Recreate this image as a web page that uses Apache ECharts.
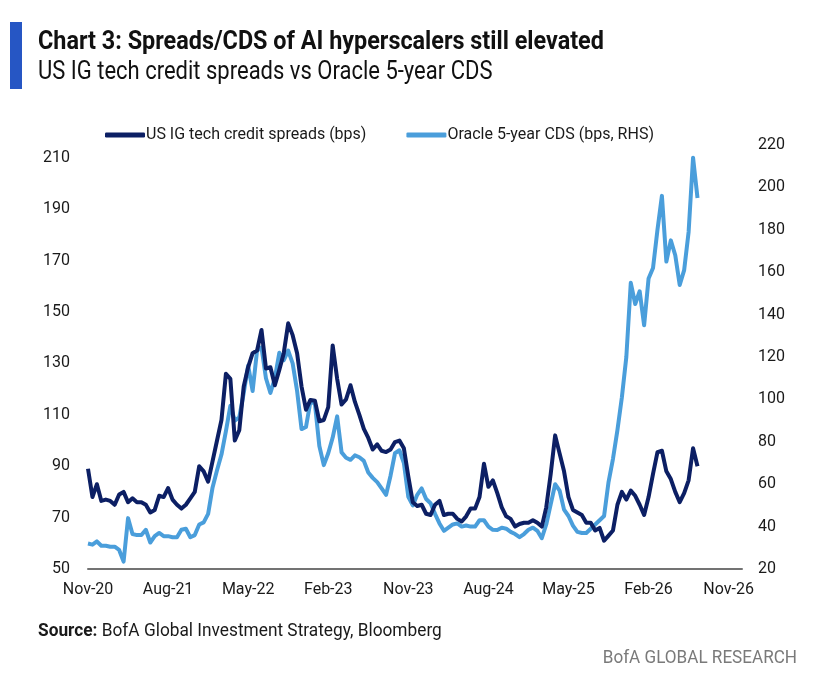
<!DOCTYPE html>
<html>
<head>
<meta charset="utf-8">
<script src="https://cdn.jsdelivr.net/npm/echarts@6/dist/echarts.min.js"></script>
<style>
  html, body { margin: 0; padding: 0; background: #ffffff; }
  #chart { width: 828px; height: 696px; }
</style>
</head>
<body>
<div id="chart"></div>
<script>
// ---- data ----
// samples every half month starting Nov-2020
const STEP_MONTHS = 0.5;
const xTickLabels = ['Nov-20', 'Aug-21', 'May-22', 'Feb-23', 'Nov-23', 'Aug-24', 'May-25', 'Feb-26', 'Nov-26'];
const leftTicks = [50, 70, 90, 110, 130, 150, 170, 190, 210];
const rightTicks = [20, 40, 60, 80, 100, 120, 140, 160, 180, 200, 220];
const seriesNames = ['US IG tech credit spreads (bps)', 'Oracle 5-year CDS (bps, RHS)'];

const usIGTechSpreads = [
  89, 78, 83, 76.5, 77, 76.5, 75, 79, 80, 76,
  77.5, 76, 76, 75, 72, 73, 78.5, 78, 81.5, 77,
  75, 73.5, 75, 77.5, 80, 90, 88, 84, 92, 100,
  108, 126, 124, 100, 104, 121, 128.6, 134, 135, 143,
  128, 128.5, 121.5, 127.5, 134, 145.6, 141, 134, 121, 112,
  115.8, 115.5, 107.5, 108, 113, 137, 124, 114, 116, 121.5,
  115, 110, 104.5, 101, 96.5, 98.5, 96, 95.5, 96.5, 99.4,
  100, 97, 86, 76, 74.5, 75, 71.5, 71, 75, 76.5,
  71, 71.5, 71.5, 69.5, 68.5, 70.5, 73.5, 73.5, 78, 91,
  82, 84.5, 79.5, 74, 70.5, 69.5, 66.5, 67.5, 68, 68,
  69, 68, 66.5, 74, 87, 102, 95, 88, 78, 73,
  72, 71, 68, 68, 65, 66, 61, 63, 65, 75,
  80, 77, 80.5, 78.5, 75, 71, 78, 87, 95.5, 96,
  88, 85, 80, 76, 79.5, 84.5, 97, 90
];

const oracle5yCDS = [
  32, 31.5, 33, 31, 31, 30.5, 30.5, 29, 23.5, 44,
  36.5, 36, 36, 38.5, 32.5, 35.5, 37, 35.5, 35.5, 35,
  35, 38.5, 39, 35, 36, 41, 42, 46, 58.5, 66.6,
  74, 85, 97, 90, 91.5, 103, 116, 104, 123, 124.5,
  110, 103, 110, 122, 118.5, 123, 117, 104, 86, 87,
  99, 98, 78, 69, 74.6, 82, 92, 75, 72.5, 71.5,
  73.6, 72.7, 71, 65.5, 63, 61, 58, 55, 64, 74.6,
  76, 70, 54, 50, 55, 58, 53, 51, 46, 41.5,
  38, 39.5, 41, 41.5, 40, 40.5, 40, 40, 43, 43,
  40, 38.5, 38.4, 39.5, 39, 37.5, 36.5, 35, 36.5, 38.5,
  39.5, 38, 34.5, 41, 50.5, 60, 57, 48, 45, 40.5,
  37.5, 37, 37, 39, 41, 43, 45, 61, 72, 85.5,
  101, 120, 155, 145, 151, 135, 157, 162, 180, 196,
  165, 175, 168, 154, 161, 179, 214, 195
];

// ---- chart ----
const FONT = '"Roboto", "Noto Sans", sans-serif';
const DARK = '#0c1f64';
const LIGHT = '#4a9edb';
const TXT = '#1a1a1a';

const chart = echarts.init(document.getElementById('chart'), null, { renderer: 'canvas' });

const toPairs = arr => arr.map((v, i) => [i * STEP_MONTHS, v]);
const tickGap = (ticks) => ticks[1] - ticks[0];

chart.setOption({
  backgroundColor: '#ffffff',
  animation: false,
  textStyle: { fontFamily: FONT },
  graphic: [
    { type: 'rect', shape: { x: 10, y: 22, width: 12, height: 67 }, style: { fill: '#2656c4' } },
    { type: 'text', x: 38, y: 29, scaleX: 0.9,
      style: { text: 'Chart 3: Spreads/CDS of AI hyperscalers still elevated', font: 'bold 26px ' + FONT, fill: '#111111' } },
    { type: 'text', x: 38, y: 60, scaleX: 0.88,
      style: { text: 'US IG tech credit spreads vs Oracle 5-year CDS', font: '25px ' + FONT, fill: '#111111' } },
    { type: 'text', x: 38, y: 622, scaleX: 0.96,
      style: {
        text: '{b|Source:} BofA Global Investment Strategy, Bloomberg',
        font: '18px ' + FONT, fill: TXT,
        rich: { b: { font: 'bold 18px ' + FONT, fill: TXT } }
      } },
    { type: 'text', x: 797, y: 649, scaleX: 0.95,
      style: { text: 'BofA GLOBAL RESEARCH', font: '18px ' + FONT, fill: '#7a7a7a', align: 'right' } }
  ],
  legend: {
    top: 122, left: 100,
    itemWidth: 40, itemHeight: 5, itemGap: 40,
    icon: 'roundRect',
    textStyle: { fontSize: 16, color: TXT, fontFamily: FONT, padding: [0, 0, 0, -4] },
    data: seriesNames
  },
  grid: { left: 88, right: 86, top: 145, bottom: 127, containLabel: false },
  xAxis: {
    type: 'value', min: 0, max: 73.5, interval: 9,
    axisLine: { show: true, lineStyle: { color: '#737373', width: 2 } },
    axisTick: { show: false },
    splitLine: { show: false },
    axisLabel: {
      fontSize: 16, color: TXT, margin: 13, showMaxLabel: false,
      formatter: v => xTickLabels[Math.round(v / 9)] ?? ''
    }
  },
  yAxis: [
    {
      type: 'value', position: 'left', min: leftTicks[0], max: 215, interval: tickGap(leftTicks),
      axisLine: { show: false }, axisTick: { show: false }, splitLine: { show: false },
      axisLabel: { fontSize: 16, color: TXT, margin: 18, showMaxLabel: false }
    },
    {
      type: 'value', position: 'right', min: rightTicks[0], max: rightTicks[rightTicks.length - 1],
      interval: tickGap(rightTicks),
      axisLine: { show: false }, axisTick: { show: false }, splitLine: { show: false },
      axisLabel: { fontSize: 16, color: TXT, margin: 16 }
    }
  ],
  series: [
    {
      name: seriesNames[0], type: 'line', yAxisIndex: 0, showSymbol: false, symbol: 'none',
      data: toPairs(usIGTechSpreads), z: 3,
      lineStyle: { color: DARK, width: 4, join: 'round' }, itemStyle: { color: DARK }
    },
    {
      name: seriesNames[1], type: 'line', yAxisIndex: 1, showSymbol: false, symbol: 'none',
      data: toPairs(oracle5yCDS), z: 2,
      lineStyle: { color: LIGHT, width: 4, join: 'round' }, itemStyle: { color: LIGHT }
    }
  ]
});
</script>
</body>
</html>
